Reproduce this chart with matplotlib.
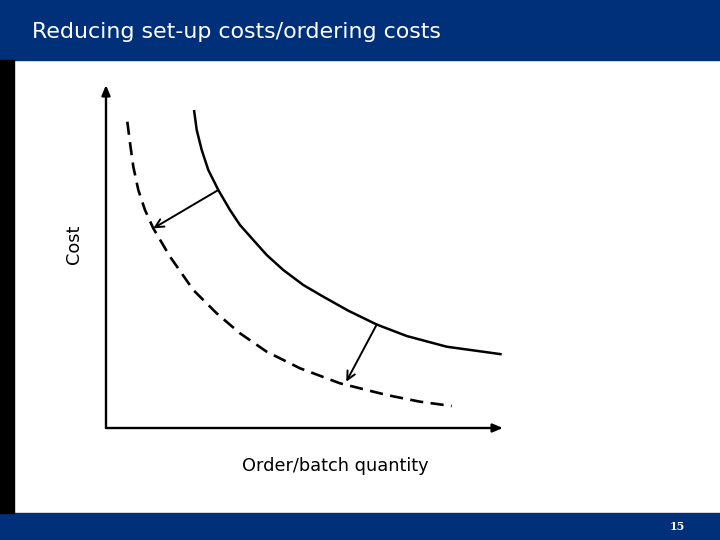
import matplotlib
matplotlib.use("Agg")
import matplotlib.pyplot as plt
from matplotlib.patches import Rectangle

# figure size in pixels at dpi=100
FIG_W, FIG_H = 7.2, 5.4
BLUE = "#00307a"

TITLE = "Reducing set-up costs/ordering costs"
XLABEL = "Order/batch quantity"
YLABEL = "Cost"
PAGE_NO = "15"

# original cost curve (solid) (0..100 scale)
solid_x = [22.17, 22.85, 24.11, 25.77, 28.29, 31.23, 33.75, 37.10, 40.48,
           44.66, 49.70, 54.74, 61.03, 68.19, 75.74, 85.82, 99.67]
solid_y = [92.71, 86.88, 81.05, 75.22, 69.39, 63.56, 59.18, 54.81, 50.44,
           46.06, 41.69, 38.28, 34.20, 30.17, 26.82, 23.70, 21.49]

# reduced cost curve (dashed)
dashed_x = [5.37, 6.05, 6.88, 8.14, 9.82, 11.91, 16.12, 21.99, 27.88, 33.75,
            40.48, 48.87, 58.94, 70.71, 79.09, 87.08]
dashed_y = [89.30, 83.09, 76.18, 69.39, 63.56, 58.22, 49.97, 40.23, 33.44,
            27.61, 22.24, 17.41, 13.03, 9.62, 7.67, 6.41]

# shift arrows: (start on solid curve, end on dashed curve)
shift_from = [(28.29, 69.39), (68.19, 30.17)]
shift_to = [(11.91, 58.22), (60.52, 13.50)]

fig = plt.figure(figsize=(FIG_W, FIG_H), dpi=100)

# slide frame: header, footer, left black strip
fig.patches.append(Rectangle((0, 1 - 60 / 540), 1, 60 / 540,
                             transform=fig.transFigure, color=BLUE, zorder=0))
fig.patches.append(Rectangle((0, 0), 1, 27 / 540,
                             transform=fig.transFigure, color=BLUE, zorder=0))
fig.patches.append(Rectangle((0, 27 / 540), 14 / 720, 453 / 540,
                             transform=fig.transFigure, color="black", zorder=0))

fig.text(32 / 720, 1 - 32 / 540, TITLE, color="white", fontsize=15.9,
         ha="left", va="center", family="DejaVu Sans")
fig.text(677 / 720, 13 / 540, PAGE_NO, color="white", fontsize=8,
         fontweight="bold", ha="center", va="center", family="DejaVu Serif")

ax = fig.add_axes([106 / 720, 112 / 540, 397 / 720, 343 / 540])
ax.set_xlim(0, 100)
ax.set_ylim(0, 100)
ax.axis("off")

# axes with arrow heads
axis_arrow = dict(arrowstyle="-|>,head_length=0.6,head_width=0.25",
                  color="black", lw=1.7, shrinkA=0, shrinkB=0)
ax.annotate("", xy=(0, 100), xytext=(0, 0), arrowprops=axis_arrow,
            annotation_clip=False)
ax.annotate("", xy=(100, 0), xytext=(0, 0), arrowprops=axis_arrow,
            annotation_clip=False)

ax.plot(solid_x, solid_y, color="black", lw=1.8, clip_on=False,
        solid_capstyle="butt", solid_joinstyle="round")
ax.plot(dashed_x, dashed_y, color="black", lw=1.9, clip_on=False,
        dashes=(5.0, 2.8), dash_joinstyle="round")

shift_arrow = dict(arrowstyle="->,head_length=0.6,head_width=0.3",
                   color="black", lw=1.4, shrinkA=0, shrinkB=0)
for (x0, y0), (x1, y1) in zip(shift_from, shift_to):
    ax.annotate("", xy=(x1, y1), xytext=(x0, y0), arrowprops=shift_arrow,
                annotation_clip=False)

fig.text(335 / 720, 1 - 466 / 540, XLABEL, fontsize=12.8, ha="center",
         va="center", family="DejaVu Sans")
fig.text(73.5 / 720, 1 - 244 / 540, YLABEL, fontsize=12.8, ha="center",
         va="center", rotation=90, family="DejaVu Sans")

fig.savefig("out.png", dpi=100)
